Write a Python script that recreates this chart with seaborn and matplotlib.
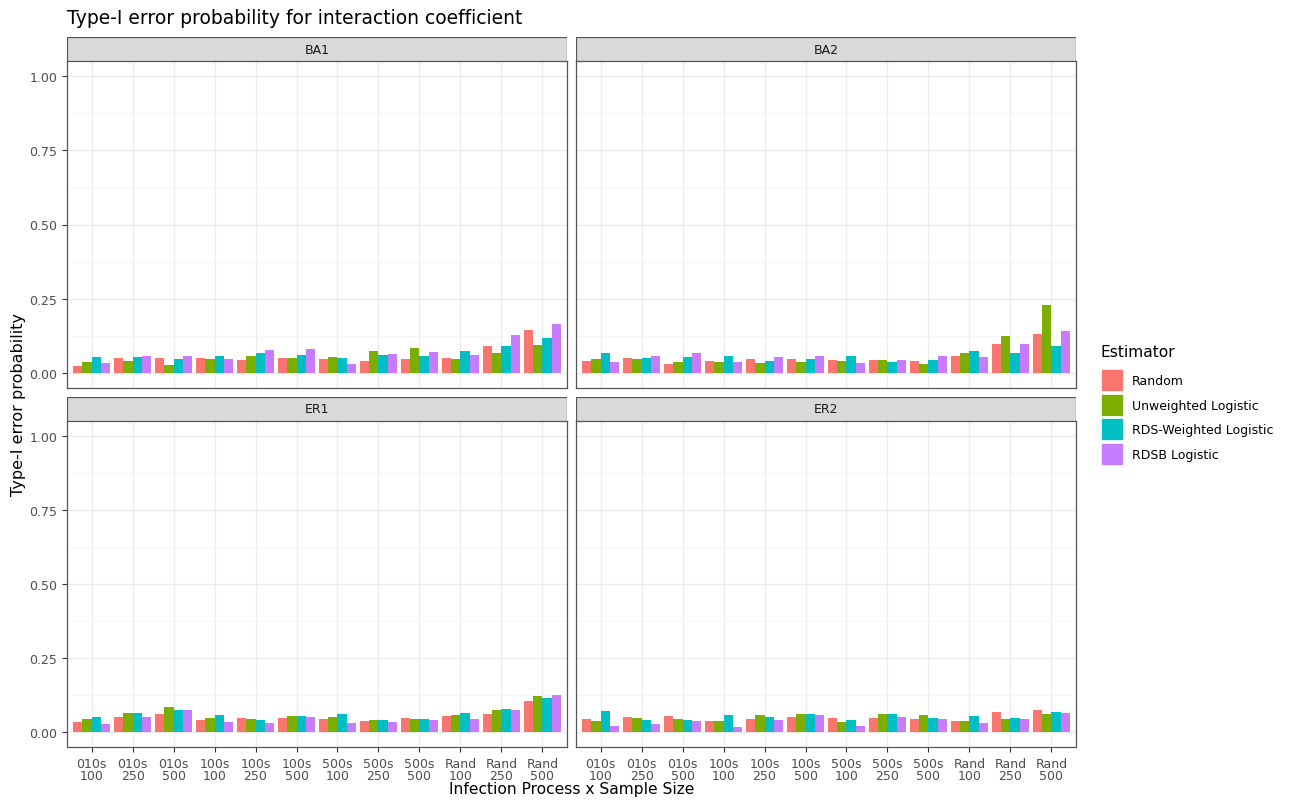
import numpy as np
import pandas as pd
import seaborn as sns
import matplotlib.pyplot as plt
from matplotlib.patches import Rectangle, Patch

# Categories (infection process x sample size) and estimators
categories = ["010s\n100", "010s\n250", "010s\n500", "100s\n100", "100s\n250", "100s\n500",
              "500s\n100", "500s\n250", "500s\n500", "Rand\n100", "Rand\n250", "Rand\n500"]
estimators = ["Random", "Unweighted Logistic", "RDS-Weighted Logistic", "RDSB Logistic"]
networks = ["BA1", "BA2", "ER1", "ER2"]

# Type-I error probability, one list per estimator, per network
ba1_random = [0.025, 0.051, 0.052, 0.050, 0.045, 0.051, 0.046, 0.041, 0.047, 0.050, 0.090, 0.144]
ba1_unweighted = [0.037, 0.041, 0.028, 0.047, 0.058, 0.050, 0.054, 0.074, 0.083, 0.046, 0.069, 0.093]
ba1_rds = [0.054, 0.054, 0.049, 0.059, 0.068, 0.060, 0.050, 0.060, 0.057, 0.073, 0.090, 0.117]
ba1_rdsb = [0.035, 0.059, 0.056, 0.046, 0.077, 0.081, 0.030, 0.065, 0.070, 0.060, 0.127, 0.166]

ba2_random = [0.042, 0.051, 0.030, 0.042, 0.048, 0.046, 0.044, 0.045, 0.040, 0.058, 0.099, 0.131]
ba2_unweighted = [0.046, 0.047, 0.036, 0.039, 0.035, 0.038, 0.042, 0.045, 0.030, 0.068, 0.126, 0.228]
ba2_rds = [0.067, 0.052, 0.055, 0.058, 0.041, 0.048, 0.059, 0.039, 0.044, 0.074, 0.067, 0.090]
ba2_rdsb = [0.037, 0.058, 0.067, 0.039, 0.054, 0.059, 0.035, 0.044, 0.056, 0.054, 0.098, 0.142]

er1_random = [0.033, 0.050, 0.060, 0.040, 0.047, 0.048, 0.046, 0.039, 0.047, 0.054, 0.063, 0.104]
er1_unweighted = [0.045, 0.066, 0.086, 0.048, 0.044, 0.056, 0.050, 0.040, 0.044, 0.057, 0.076, 0.123]
er1_rds = [0.050, 0.064, 0.076, 0.058, 0.042, 0.056, 0.063, 0.040, 0.046, 0.066, 0.077, 0.117]
er1_rdsb = [0.029, 0.052, 0.075, 0.035, 0.031, 0.052, 0.031, 0.036, 0.040, 0.045, 0.076, 0.124]

er2_random = [0.046, 0.052, 0.054, 0.038, 0.044, 0.050, 0.048, 0.047, 0.044, 0.039, 0.067, 0.076]
er2_unweighted = [0.037, 0.049, 0.046, 0.037, 0.057, 0.061, 0.036, 0.063, 0.057, 0.038, 0.044, 0.061]
er2_rds = [0.073, 0.042, 0.042, 0.057, 0.050, 0.063, 0.040, 0.060, 0.047, 0.054, 0.049, 0.067]
er2_rdsb = [0.021, 0.029, 0.038, 0.019, 0.040, 0.057, 0.020, 0.050, 0.045, 0.030, 0.045, 0.064]

values = {
    "BA1": [ba1_random, ba1_unweighted, ba1_rds, ba1_rdsb],
    "BA2": [ba2_random, ba2_unweighted, ba2_rds, ba2_rdsb],
    "ER1": [er1_random, er1_unweighted, er1_rds, er1_rdsb],
    "ER2": [er2_random, er2_unweighted, er2_rds, er2_rdsb],
}

# Long format table
rows = []
for net in networks:
    for est, vals in zip(estimators, values[net]):
        for cat, v in zip(categories, vals):
            rows.append({"network": net, "Estimator": est, "category": cat, "prob": v})
df = pd.DataFrame(rows)

palette = ["#F8766D", "#7CAE00", "#00BFC4", "#C77CFF"]
border = "#555555"

W, H = 1292, 803
fig = plt.figure(figsize=(W / 100, H / 100), dpi=100)

# panel positions in pixels: (left, top, right, bottom)
boxes = [(67, 62, 567, 389), (576, 62, 1076, 389),
         (67, 422, 567, 748), (576, 422, 1076, 748)]
strip_h = 24

for i, (net, (l, t, r, b)) in enumerate(zip(networks, boxes)):
    ax = fig.add_axes([l / W, 1 - b / H, (r - l) / W, (b - t) / H])
    sub = df[df["network"] == net]
    sns.barplot(data=sub, x="category", y="prob", hue="Estimator", order=categories,
                hue_order=estimators, palette=palette, saturation=1, width=0.9,
                errorbar=None, legend=False, ax=ax, zorder=3)
    ax.set_ylim(-0.05, 1.05)
    ax.set_xlim(-0.6, 11.6)
    ax.set_yticks([0, 0.25, 0.5, 0.75, 1.0])
    ax.set_yticks([0.125, 0.375, 0.625, 0.875], minor=True)
    ax.grid(True, which="major", color="#EBEBEB", linewidth=1.0, zorder=0)
    ax.grid(True, which="minor", axis="y", color="#F4F4F4", linewidth=0.6, zorder=0)
    ax.set_axisbelow(True)
    ax.set_xlabel("")
    ax.set_ylabel("")
    for s in ax.spines.values():
        s.set_color(border)
        s.set_linewidth(0.9)
    ax.tick_params(which="major", color="#333333", length=3.5, labelsize=9, labelcolor="#4D4D4D")
    ax.tick_params(which="minor", length=0)
    if i % 2 == 0:
        ax.set_yticklabels(["0.00", "0.25", "0.50", "0.75", "1.00"])
    else:
        ax.tick_params(axis="y", labelleft=False, length=0)
    if i < 2:
        ax.tick_params(axis="x", labelbottom=False, length=0)
    else:
        ax.set_xticks(range(len(categories)))
        ax.set_xticklabels(categories, linespacing=0.95)
    # facet strip
    sax = fig.add_axes([l / W, 1 - t / H, (r - l) / W, strip_h / H])
    sax.add_patch(Rectangle((0, 0), 1, 1, transform=sax.transAxes, facecolor="#D9D9D9",
                            edgecolor=border, linewidth=0.9))
    sax.text(0.5, 0.5, net, ha="center", va="center", fontsize=9, color="#1A1A1A")
    sax.set_axis_off()

fig.text(67 / W, 1 - 19 / H, "Type-I error probability for interaction coefficient",
         fontsize=13.5, ha="left", va="center", color="black")
fig.text(572 / W, 1 - 790 / H, "Infection Process x Sample Size", fontsize=11.2,
         ha="center", va="center")
fig.text(19 / W, 1 - 405 / H, "Type-I error probability", fontsize=11.5,
         rotation=90, ha="center", va="center")

# legend: title placed separately to match spacing
fig.text(1101 / W, 1 - 353 / H, "Estimator", fontsize=11.2, ha="left", va="center")
handles = [Patch(facecolor=c, edgecolor="white", linewidth=0.5) for c in palette]
fig.legend(handles, estimators, loc="upper left",
           bbox_to_anchor=(1090 / W, 1 - 359 / H), frameon=False, fontsize=9,
           handlelength=1.75, handleheight=2.33,
           labelspacing=0.2, handletextpad=0.7)

fig.savefig("out.png", dpi=100, facecolor="white")
